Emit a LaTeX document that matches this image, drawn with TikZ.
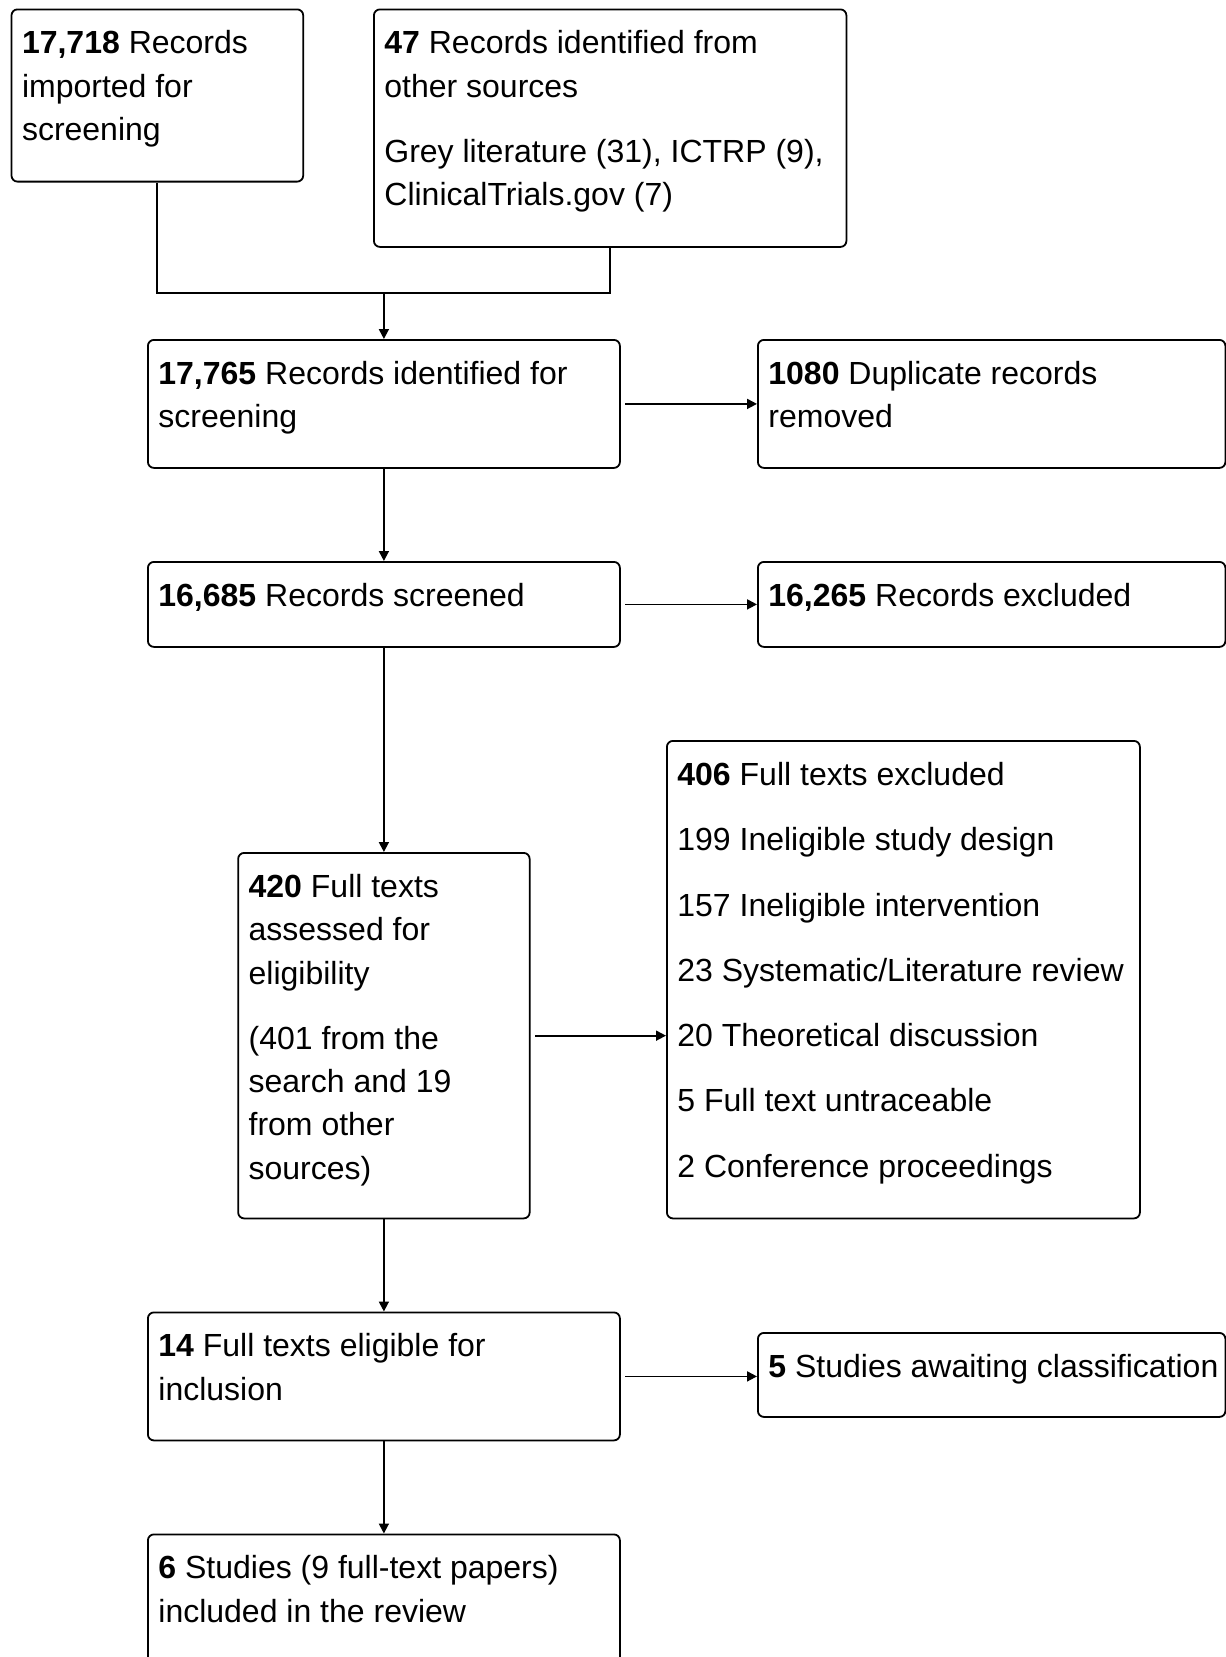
\documentclass[tikz,border=0pt]{standalone}
\usepackage{fontspec}
\setmainfont{Liberation Sans}
\usetikzlibrary{arrows.meta}
\newcommand{\flowbox}[3]{\parbox[t][#2][t]{#1}{\raggedright\leftskip=10.5pt\rightskip=0pt plus 1fil\fontsize{32}{43.3}\selectfont\rule{0pt}{44.5pt}#3}}
\begin{document}
\begin{tikzpicture}[x=1pt,y=-1pt,
  fbox/.style={draw, line width=1.8pt, rounded corners=6pt, anchor=north west, inner sep=0pt},
  link/.style={line width=1.8pt},
  arr/.style={line width=1.8pt, -{Triangle[length=10pt,width=10pt]}}]
\fill[white] (0,0) rectangle (1226,1657);
\useasboundingbox (0,0) rectangle (1226,1657);

\node[fbox] (b1) at (10.6,8.5) {\flowbox{291.7pt}{172.2pt}{\textbf{17,718} Records\\imported for\\screening}};
\node[fbox] (b2) at (373,8.5) {\flowbox{472.5pt}{237.5pt}{\textbf{47} Records identified from\\other sources\\[22pt]Grey literature (31), ICTRP (9),\\ClinicalTrials.gov (7)}};
\node[fbox] (b3) at (147,339) {\flowbox{472pt}{128pt}{\textbf{17,765} Records identified for\\screening}};
\node[fbox] (b4) at (757,339) {\flowbox{467.5pt}{128pt}{\textbf{1080} Duplicate records\\removed}};
\node[fbox] (b5) at (147,561) {\flowbox{472pt}{85pt}{\textbf{16,685} Records screened}};
\node[fbox] (b6) at (757,561) {\flowbox{467.5pt}{85pt}{\textbf{16,265} Records excluded}};
\node[fbox] (b7) at (237.25,852) {\flowbox{291.5pt}{365.5pt}{\textbf{420} Full texts\\assessed for\\eligibility\\[22pt](401 from the\\search and 19\\from other\\sources)}};
\node[fbox] (b8) at (666,740) {\flowbox{473pt}{477.5pt}{\textbf{406} Full texts excluded\\[22pt]199 Ineligible study design\\[22pt]157 Ineligible intervention\\[22pt]23 Systematic/Literature review\\[22pt]20 Theoretical discussion\\[22pt]5 Full text untraceable\\[22pt]2 Conference proceedings}};
\node[fbox] (b9) at (147,1311.5) {\flowbox{472pt}{128pt}{\textbf{14} Full texts eligible for\\inclusion}};
\node[fbox] (b10) at (757,1332) {\flowbox{467.5pt}{84pt}{\textbf{5} Studies awaiting classification}};
\node[fbox] (b11) at (147,1533.5) {\flowbox{472pt}{150pt}{\textbf{6} Studies (9 full-text papers)\\included in the review}};

\coordinate (j) at (b3.north |- 0,293);
\draw[link] (b1.south) |- (j) -| (b2.south);
\draw[arr] (j) -- (b3.north);
\draw[arr] (b3.south) -- (b5.north);
\draw[arr] (b5.south) -- (b7.north);
\draw[arr] (b7.south) -- (b9.north);
\draw[arr] (b9.south) -- (b11.north);
\draw[arr] ([xshift=4.5pt]b3.east) -- (b3.east -| b4.west);
\draw[arr] ([xshift=4.5pt]b5.east) -- (b5.east -| b6.west);
\draw[arr] ([xshift=4.5pt]b7.east) -- (b7.east -| b8.west);
\draw[arr] ([xshift=4.5pt]b9.east) -- (b9.east -| b10.west);
\end{tikzpicture}
\end{document}
